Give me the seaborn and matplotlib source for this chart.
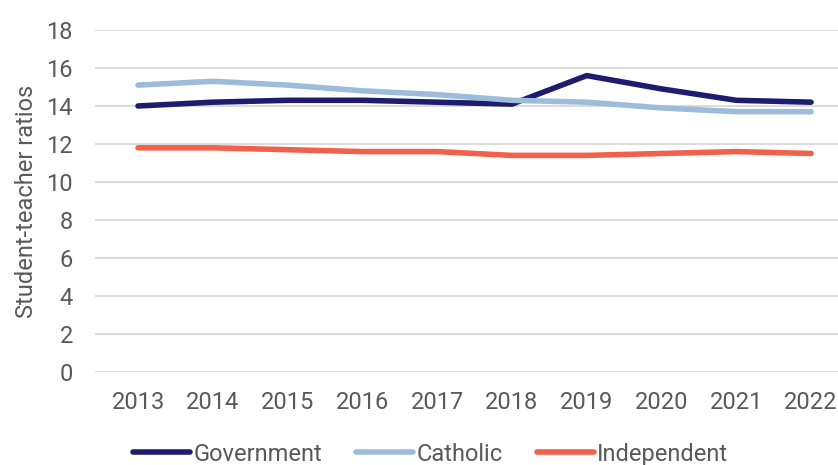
import matplotlib
matplotlib.use("Agg")
import matplotlib.pyplot as plt
import seaborn as sns
import pandas as pd

years = ["2013", "2014", "2015", "2016", "2017", "2018", "2019", "2020", "2021", "2022"]
government = [14.0, 14.2, 14.3, 14.3, 14.2, 14.1, 15.6, 14.9, 14.3, 14.2]
catholic = [15.1, 15.3, 15.1, 14.8, 14.6, 14.3, 14.2, 13.9, 13.7, 13.7]
independent = [11.8, 11.8, 11.7, 11.6, 11.6, 11.4, 11.4, 11.5, 11.6, 11.5]
series_names = ["Government", "Catholic", "Independent"]
colors = ["#1d1c6e", "#9dbbda", "#f0604a"]
yticks = [0, 2, 4, 6, 8, 10, 12, 14, 16, 18]

df = pd.DataFrame({"Year": years * 3,
                   "Value": government + catholic + independent,
                   "Sector": sum([[n] * len(years) for n in series_names], [])})

sns.set_theme(style="white")
plt.rcParams["font.family"] = ["Roboto", "DejaVu Sans"]
text_color = "#595959"
fs = 17

fig = plt.figure(figsize=(8.38, 4.65), dpi=100)
ax = fig.add_axes([95 / 838, 0.2, 1 - 95 / 838, 0.9355 - 0.2])

sns.lineplot(data=df, x="Year", y="Value", hue="Sector", hue_order=series_names,
             palette=colors, linewidth=4, ax=ax, sort=False, legend=True)
for line in ax.get_lines():
    line.set_solid_capstyle("round")

ax.set_ylim(0, 18)
ax.set_xlim(-0.575, 9.36)
ax.set_yticks(yticks)
ax.set_yticklabels([str(t) for t in yticks])
ax.grid(axis="y", color="#d9d9d9", linewidth=1.3)
ax.set_axisbelow(True)
for s in ax.spines.values():
    s.set_visible(False)
ax.tick_params(axis="both", length=0, labelsize=fs, labelcolor=text_color)
ax.tick_params(axis="x", pad=14)
ax.tick_params(axis="y", pad=16)
ax.set_xlabel("")
ax.set_ylabel("Student-teacher ratios", fontsize=fs, color=text_color, labelpad=6)

leg = ax.legend(loc="center", bbox_to_anchor=(0.452, -0.24), ncol=3, frameon=False,
                fontsize=fs, handlelength=2.4, handletextpad=0.15, columnspacing=1.45,
                borderpad=0, borderaxespad=0)
for t in leg.get_texts():
    t.set_color(text_color)
for h in leg.get_lines():
    h.set_linewidth(4)
    h.set_solid_capstyle("round")

fig.savefig("out.png", dpi=100)
